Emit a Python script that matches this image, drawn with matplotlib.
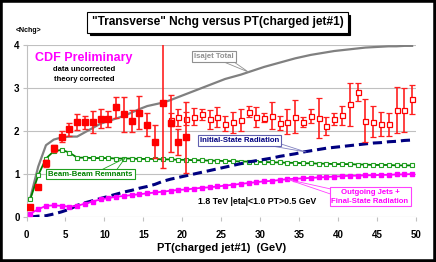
import matplotlib
matplotlib.use("Agg")
import matplotlib.pyplot as plt
from matplotlib.patches import Rectangle

plt.rcParams['font.family'] = ['Liberation Sans', 'DejaVu Sans']
plt.rcParams['font.weight'] = 'bold'

# ---- data ----
xbins = [i + 0.5 for i in range(50)]

filled_x = [i + 0.5 for i in range(21)]
filled_y = [0.24, 0.70, 1.25, 1.60, 1.87, 2.04, 2.21, 2.20, 2.21, 2.29, 2.28,
            2.55, 2.39, 2.23, 2.43, 2.15, 1.75, 2.64, 2.18, 1.75, 1.85]
filled_err = [0.04, 0.05, 0.08, 0.08, 0.12, 0.15, 0.19, 0.15, 0.25, 0.22, 0.18,
              0.25, 0.41, 0.26, 0.39, 0.27, 0.38, 1.50, 0.66, 0.30, 0.83]

open_x = [i + 0.5 for i in range(18, 50)]
open_y = [2.26, 2.32, 2.29, 2.33, 2.39, 2.27, 2.32, 2.17, 2.20, 2.26, 2.45,
          2.33, 2.31, 2.36, 2.19, 2.22, 2.33, 2.21, 2.35, 2.30, 2.12, 2.28,
          2.37, 2.62, 2.90, 2.24, 2.22, 2.16, 2.16, 2.49, 2.49, 2.74]
open_err = [0.15, 0.20, 0.15, 0.20, 0.13, 0.22, 0.23, 0.17, 0.25, 0.25, 0.12,
            0.23, 0.10, 0.32, 0.17, 0.30, 0.38, 0.12, 0.17, 0.47, 0.21, 0.14,
            0.22, 0.50, 0.21, 0.50, 0.35, 0.28, 0.27, 0.54, 0.51, 0.34]

isajet_total = [0.45, 1.17, 1.67, 1.80, 1.85, 1.87, 1.87, 1.97, 2.07, 2.17,
                2.23, 2.29, 2.35, 2.43, 2.51, 2.58, 2.62, 2.66, 2.72, 2.79,
                2.86, 2.93, 3.00, 3.07, 3.14, 3.21, 3.26, 3.31, 3.37, 3.43,
                3.49, 3.54, 3.59, 3.64, 3.69, 3.73, 3.77, 3.80, 3.83, 3.86,
                3.88, 3.90, 3.92, 3.94, 3.95, 3.96, 3.97, 3.97, 3.98, 3.98]

beam_remnants = [0.42, 0.97, 1.36, 1.53, 1.56, 1.50, 1.38, 1.38, 1.37, 1.37,
                 1.37, 1.36, 1.36, 1.36, 1.35, 1.35, 1.35, 1.34, 1.34, 1.33,
                 1.33, 1.32, 1.32, 1.31, 1.31, 1.30, 1.30, 1.29, 1.29, 1.28,
                 1.28, 1.27, 1.27, 1.26, 1.26, 1.25, 1.25, 1.24, 1.24, 1.23,
                 1.23, 1.23, 1.22, 1.22, 1.21, 1.21, 1.21, 1.20, 1.20, 1.20]

isr = [0.00, 0.02, 0.03, 0.07, 0.12, 0.18, 0.27, 0.33, 0.38, 0.43,
       0.48, 0.53, 0.58, 0.62, 0.67, 0.71, 0.76, 0.83, 0.88, 0.92,
       0.96, 1.00, 1.04, 1.08, 1.12, 1.16, 1.20, 1.24, 1.28, 1.31,
       1.34, 1.37, 1.41, 1.44, 1.47, 1.51, 1.54, 1.57, 1.60, 1.62,
       1.64, 1.66, 1.68, 1.70, 1.72, 1.73, 1.75, 1.76, 1.78, 1.79]

outgoing = [0.08, 0.18, 0.26, 0.27, 0.26, 0.24, 0.26, 0.31, 0.36, 0.41,
            0.44, 0.47, 0.49, 0.51, 0.53, 0.55, 0.57, 0.59, 0.61, 0.63,
            0.64, 0.66, 0.68, 0.69, 0.71, 0.73, 0.75, 0.77, 0.79, 0.81,
            0.83, 0.84, 0.86, 0.88, 0.89, 0.90, 0.91, 0.92, 0.93, 0.94,
            0.95, 0.96, 0.96, 0.97, 0.97, 0.98, 0.98, 0.99, 0.99, 1.00]

xticks = [0, 5, 10, 15, 20, 25, 30, 35, 40, 45, 50]
yticks = [0, 1, 2, 3, 4]

# ---- figure ----
W, H = 436, 262
fig = plt.figure(figsize=(W / 100, H / 100), dpi=100)
ax = fig.add_axes([26.5 / W, 1 - 217 / H, (416 - 26.5) / W, (217 - 45) / H])
ax.set_xlim(0, 50)
ax.set_ylim(0, 4)

gridc = '#c0c0c0'
for s in ['top', 'right', 'bottom']:
    ax.spines[s].set_visible(False)
ax.spines['left'].set_color(gridc)
ax.yaxis.grid(True, color=gridc, lw=0.8)
ax.set_axisbelow(True)
ax.set_xticks(xticks)
ax.set_yticks(yticks)
ax.tick_params(axis='both', colors=gridc, length=3, width=0.8, labelsize=7,
               labelcolor='black', pad=2)
for lab in ax.get_xticklabels() + ax.get_yticklabels():
    lab.set_fontweight('bold')
ax.tick_params(axis='x', pad=6)

# theory curves
ax.plot(xbins, isajet_total, color='#808080', lw=1.6, zorder=3)
ax.plot(xbins, beam_remnants, color='#008000', lw=1.3, marker='s', ms=3,
        mfc='white', mec='#22a022', mew=0.8, zorder=3)
ax.plot(xbins, isr, color='#000080', lw=2.2, ls=(0, (3, 1.6)), zorder=3)
ax.plot(xbins, outgoing, color='#ff00ff', lw=1.3, marker='s', ms=3,
        mfc='#ff00ff', mec='#ff00ff', zorder=3)

# data
ax.errorbar(open_x, open_y, yerr=open_err, fmt='s', color='#ff2020', ms=3.6,
            mfc='white', mec='#ff0000', mew=0.9, elinewidth=1.2, capsize=2.2,
            capthick=1.0, zorder=4)
ax.errorbar(filled_x, filled_y, yerr=filled_err, fmt='s', color='#ff2020', ms=3.8,
            mfc='#ff0000', mec='#ff0000', elinewidth=1.2, capsize=2.2,
            capthick=1.0, zorder=5)

# labels with callouts
def callout(xy, p1, p2, color):
    ax.plot([p1[0], xy[0], p2[0]], [p1[1], xy[1], p2[1]], color=color, lw=0.6, zorder=6)

def label(x, y, text, ec, tc, fs=5.6):
    ax.text(x, y, text, ha='center', va='center', fontsize=fs, color=tc,
            fontweight='bold', linespacing=1.3, zorder=7,
            bbox=dict(boxstyle='square,pad=0.25', fc='white', ec=ec, lw=0.8))

callout((28.5, 3.37), (24.6, 3.66), (26.2, 3.66), '#909090')
label(24.1, 3.73, 'Isajet Total', '#909090', '#909090')

callout((35.9, 1.51), (30.3, 1.69), (32.3, 1.72), '#8080c0')
label(27.3, 1.77, 'Initial-State Radiation', '#6060b0', '#000080')

callout((12.66, 1.37), (9.45, 1.08), (11.5, 1.08), '#20a020')
label(8.2, 1.0, 'Beam-Beam Remnants', '#20a020', '#008000')

callout((33.6, 0.87), (39.1, 0.65), (39.1, 0.53), '#ff40ff')
label(44.1, 0.47, 'Outgoing Jets +\nFinal-State Radiation', '#ff40ff', '#ff00ff')

ax.text(7.4, 3.70, 'CDF Preliminary', color='#ff00ff', fontsize=9,
        fontweight='bold', ha='center', va='center')
ax.text(7.4, 3.42, 'data uncorrected', color='black', fontsize=5.5,
        fontweight='bold', ha='center', va='center')
ax.text(7.4, 3.19, 'theory corrected', color='black', fontsize=5.5,
        fontweight='bold', ha='center', va='center')
ax.text(29.6, 0.35, '1.8 TeV |eta|<1.0 PT>0.5 GeV', color='black', fontsize=6.3,
        fontweight='bold', ha='center', va='center')

# title with shadow box
tx, ty = 217.5 / W, 1 - 22.5 / H
title = fig.text(tx, ty, '"Transverse" Nchg versus PT(charged jet#1)',
                 ha='center', va='center', fontsize=8.6, fontweight='bold',
                 color='black', zorder=5,
                 bbox=dict(boxstyle='square,pad=0.35', fc='white', ec='black', lw=0.8))
fig.canvas.draw()
bb = title.get_bbox_patch().get_window_extent()
fig.patches.append(Rectangle(((bb.x0 + 2.5) / W, (bb.y0 - 2.5) / H),
                             bb.width / W, bb.height / H, transform=fig.transFigure,
                             fc='black', ec='black', lw=0.8, zorder=4))

fig.text(29 / W, 1 - 30 / H, '<Nchg>', ha='center', va='center', fontsize=5,
         fontweight='bold')
fig.text(222 / W, 1 - 248 / H, 'PT(charged jet#1)  (GeV)', ha='center',
         va='center', fontsize=8, fontweight='bold')

# outer frame
fig.patches.append(Rectangle((0, 0), 1, 1, transform=fig.transFigure,
                             fill=False, ec='black', lw=4, zorder=10))

fig.savefig('out.png', dpi=100)
